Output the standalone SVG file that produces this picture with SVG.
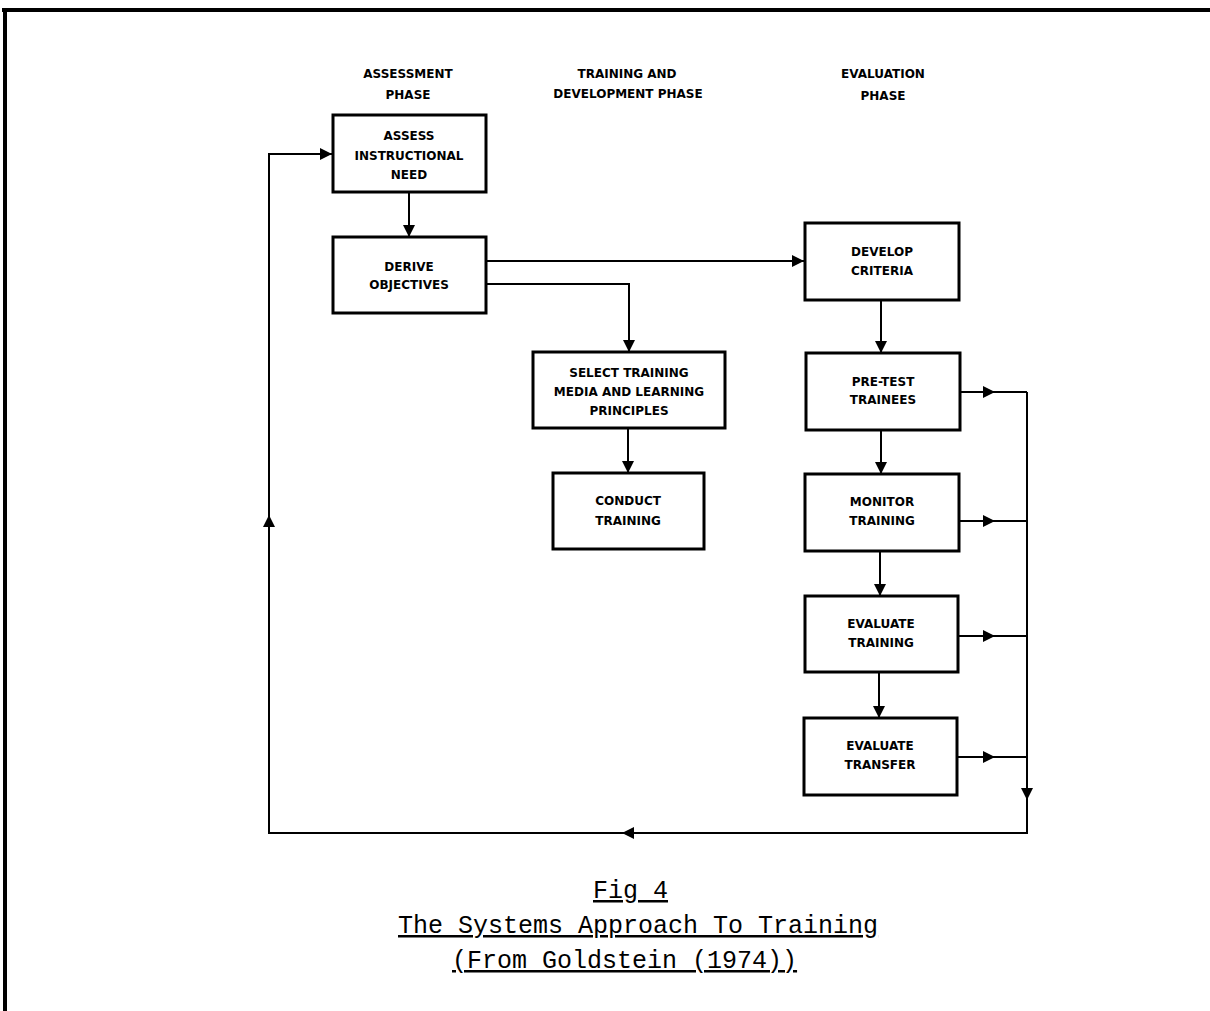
<svg xmlns="http://www.w3.org/2000/svg" width="1210" height="1011" viewBox="0 0 1210 1011">
  <style>
    .box { fill: #fff; stroke: #000; stroke-width: 3; }
    .lbl { font-family: "DejaVu Sans", "Liberation Sans", sans-serif; font-weight: bold; font-size: 12px; fill: #000; text-anchor: middle; }
    .hdr { font-family: "DejaVu Sans", "Liberation Sans", sans-serif; font-weight: bold; font-size: 12px; fill: #000; text-anchor: middle; }
    .wire { fill: none; stroke: #000; stroke-width: 2; }
    .cap { font-family: "Liberation Mono", "Courier New", monospace; font-size: 25px; fill: #000; text-decoration: underline; }
  </style>
  <defs>
    <marker id="arrow" markerUnits="userSpaceOnUse" markerWidth="12" markerHeight="12" refX="12" refY="6" orient="auto">
      <path d="M0,0 L12,6 L0,12 Z" fill="#000"/>
    </marker>
  </defs>

  <rect width="1210" height="1011" fill="#fff"/>

  <!-- page frame -->
  <g id="frame" fill="#000">
    <rect x="2" y="8" width="1208" height="4"/>
    <rect x="3" y="8" width="4" height="1003"/>
  </g>

  <!-- phase headings -->
  <g id="headings">
    <text class="hdr" x="408" y="78">ASSESSMENT</text>
    <text class="hdr" x="408" y="99">PHASE</text>
    <text class="hdr" x="627" y="78">TRAINING AND</text>
    <text class="hdr" x="628" y="98">DEVELOPMENT PHASE</text>
    <text class="hdr" x="883" y="78">EVALUATION</text>
    <text class="hdr" x="883" y="100">PHASE</text>
  </g>

  <!-- connectors -->
  <g id="connectors" class="wire">
    <path d="M409,192 V237" marker-end="url(#arrow)"/>
    <path d="M487,261 H804" marker-end="url(#arrow)"/>
    <path d="M487,284 H629 V352" marker-end="url(#arrow)"/>
    <path d="M628,428 V473" marker-end="url(#arrow)"/>
    <path d="M881,300 V353" marker-end="url(#arrow)"/>
    <path d="M881,430 V474" marker-end="url(#arrow)"/>
    <path d="M880,551 V596" marker-end="url(#arrow)"/>
    <path d="M879,672 V718" marker-end="url(#arrow)"/>

    <!-- feedback taps into the return bus -->
    <path d="M960,392 H995" marker-end="url(#arrow)"/>
    <path d="M995,392 H1027"/>
    <path d="M959,521 H995" marker-end="url(#arrow)"/>
    <path d="M995,521 H1027"/>
    <path d="M958,636 H995" marker-end="url(#arrow)"/>
    <path d="M995,636 H1027"/>
    <path d="M957,757 H995" marker-end="url(#arrow)"/>
    <path d="M995,757 H1027"/>

    <!-- return bus back to the start -->
    <path d="M1027,392 V800" marker-end="url(#arrow)"/>
    <path d="M1027,800 V833 H622" marker-end="url(#arrow)"/>
    <path d="M622,833 H269 V515" marker-end="url(#arrow)"/>
    <path d="M269,515 V154 H332" marker-end="url(#arrow)"/>
  </g>

  <!-- assessment phase -->
  <g id="assess-need">
    <rect class="box" x="333" y="115" width="153" height="77"/>
    <text class="lbl" x="409" y="140">ASSESS</text>
    <text class="lbl" x="409" y="160">INSTRUCTIONAL</text>
    <text class="lbl" x="409" y="179">NEED</text>
  </g>
  <g id="derive-objectives">
    <rect class="box" x="333" y="237" width="153" height="76"/>
    <text class="lbl" x="409" y="271">DERIVE</text>
    <text class="lbl" x="409" y="289">OBJECTIVES</text>
  </g>

  <!-- training and development phase -->
  <g id="select-media">
    <rect class="box" x="533" y="352" width="192" height="76"/>
    <text class="lbl" x="629" y="377">SELECT TRAINING</text>
    <text class="lbl" x="629" y="396">MEDIA AND LEARNING</text>
    <text class="lbl" x="629" y="415">PRINCIPLES</text>
  </g>
  <g id="conduct-training">
    <rect class="box" x="553" y="473" width="151" height="76"/>
    <text class="lbl" x="628" y="505">CONDUCT</text>
    <text class="lbl" x="628" y="525">TRAINING</text>
  </g>

  <!-- evaluation phase -->
  <g id="develop-criteria">
    <rect class="box" x="805" y="223" width="154" height="77"/>
    <text class="lbl" x="882" y="256">DEVELOP</text>
    <text class="lbl" x="882" y="275">CRITERIA</text>
  </g>
  <g id="pretest-trainees">
    <rect class="box" x="806" y="353" width="154" height="77"/>
    <text class="lbl" x="883" y="386">PRE-TEST</text>
    <text class="lbl" x="883" y="404">TRAINEES</text>
  </g>
  <g id="monitor-training">
    <rect class="box" x="805" y="474" width="154" height="77"/>
    <text class="lbl" x="882" y="506">MONITOR</text>
    <text class="lbl" x="882" y="525">TRAINING</text>
  </g>
  <g id="evaluate-training">
    <rect class="box" x="805" y="596" width="153" height="76"/>
    <text class="lbl" x="881" y="628">EVALUATE</text>
    <text class="lbl" x="881" y="647">TRAINING</text>
  </g>
  <g id="evaluate-transfer">
    <rect class="box" x="804" y="718" width="153" height="77"/>
    <text class="lbl" x="880" y="750">EVALUATE</text>
    <text class="lbl" x="880" y="769">TRANSFER</text>
  </g>

  <!-- caption -->
  <g id="caption">
    <text class="cap" x="593" y="898">Fig 4</text>
    <text class="cap" x="398" y="933">The Systems Approach To Training</text>
    <text class="cap" x="452" y="968">(From Goldstein (1974))</text>
  </g>
</svg>
